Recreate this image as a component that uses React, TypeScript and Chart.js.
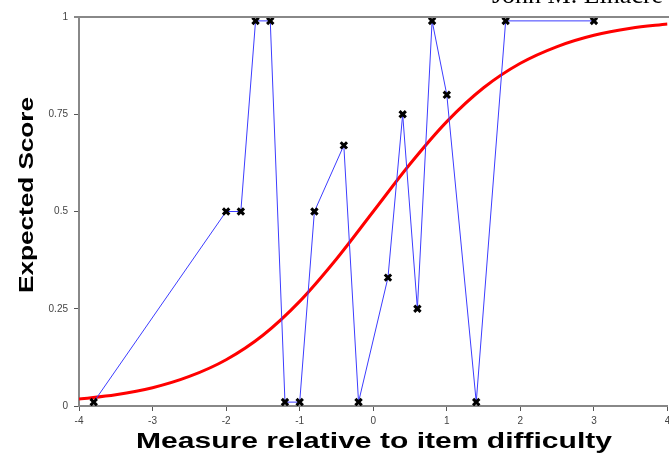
import React, { useEffect, useRef } from "react";
import { Chart, registerables } from "chart.js";

Chart.register(...registerables);

// Observed scores (blue line with X markers)
const obsX = [-3.8, -2.0, -1.8, -1.6, -1.4, -1.2, -1.0, -0.8, -0.4, -0.2, 0.2, 0.4, 0.6, 0.8, 1.0, 1.4, 1.8, 3.0];
const obsY = [0.01, 0.5, 0.5, 0.99, 0.99, 0.01, 0.01, 0.5, 0.67, 0.01, 0.33, 0.75, 0.25, 0.99, 0.8, 0.01, 0.99, 0.99];

// Expected score curve (red)
const curveX = [-4, -3.5, -3, -2.5, -2, -1.5, -1, -0.5, 0, 0.5, 1, 1.5, 2, 2.5, 3, 3.5, 4];
const curveY = [0.018, 0.029, 0.047, 0.076, 0.119, 0.182, 0.269, 0.378, 0.5, 0.622, 0.731, 0.818, 0.881, 0.924, 0.953, 0.971, 0.982];

const xTicks = [-4, -3, -2, -1, 0, 1, 2, 3, 4];
const yTicks = [0, 0.25, 0.5, 0.75, 1];

const xTitle = "Measure relative to item difficulty";
const yTitle = "Expected Score";
const author = "John M. Linacre";

const decor = {
  id: "decor",
  afterDraw(chart: any) {
    const ctx = chart.ctx as CanvasRenderingContext2D;
    const a = chart.chartArea;
    ctx.save();
    // top frame line
    ctx.strokeStyle = "#888888";
    ctx.lineWidth = 2;
    ctx.beginPath();
    ctx.moveTo(a.left - 5, a.top);
    ctx.lineTo(chart.width, a.top);
    ctx.stroke();

    ctx.fillStyle = "#000000";
    // x title
    ctx.save();
    ctx.font = "bold 22px 'Liberation Sans', Arial, sans-serif";
    const wx = ctx.measureText(xTitle).width;
    ctx.translate(374, 442);
    ctx.scale(476 / wx, 1);
    ctx.textAlign = "center";
    ctx.textBaseline = "middle";
    ctx.fillText(xTitle, 0, 0);
    ctx.restore();

    // y title
    ctx.save();
    ctx.font = "bold 21px 'Liberation Sans', Arial, sans-serif";
    const wy = ctx.measureText(yTitle).width;
    ctx.translate(27, 195);
    ctx.rotate(-Math.PI / 2);
    ctx.scale(196 / wy, 1);
    ctx.textAlign = "center";
    ctx.textBaseline = "middle";
    ctx.fillText(yTitle, 0, 0);
    ctx.restore();

    // author (cut off at top)
    ctx.font = "26px 'Liberation Serif', 'Times New Roman', serif";
    ctx.textAlign = "left";
    ctx.textBaseline = "alphabetic";
    ctx.fillText(author, 492, 3);
    ctx.restore();
  },
};

export default function App() {
  const ref = useRef<HTMLCanvasElement | null>(null);
  useEffect(() => {
    if (!ref.current) return;
    const tickFont = { family: "'Liberation Sans', Arial, sans-serif", size: 10 };
    const chart = new Chart(ref.current, {
      type: "line",
      data: {
        datasets: [
          {
            label: "Observed",
            data: obsX.map((x, i) => ({ x, y: obsY[i] })),
            borderColor: "#3c3cff",
            borderWidth: 1,
            pointStyle: "crossRot",
            pointRadius: 4.5,
            pointBorderWidth: 3,
            pointBorderColor: "#000000",
            pointBackgroundColor: "#000000",
            tension: 0,
            fill: false,
            order: 0,
          },
          {
            label: "Expected",
            data: curveX.map((x, i) => ({ x, y: curveY[i] })),
            borderColor: "#ff0000",
            borderWidth: 3,
            pointRadius: 0,
            cubicInterpolationMode: "monotone",
            fill: false,
            order: 1,
          },
        ],
      },
      options: {
        animation: false,
        responsive: false,
        devicePixelRatio: 1,
        layout: { padding: { top: 17, left: 0, right: 0, bottom: 0 } },
        plugins: { legend: { display: false }, tooltip: { enabled: false } },
        scales: {
          x: {
            type: "linear",
            min: -4,
            max: 4,
            afterBuildTicks: (s: any) => {
              s.ticks = xTicks.map((v) => ({ value: v }));
            },
            afterFit: (s: any) => {
              s.height = 49;
            },
            grid: { display: true, drawOnChartArea: false, tickLength: 5, color: "#555555", tickWidth: 1 },
            border: { display: true, color: "#888888", width: 2 },
            ticks: { font: tickFont, color: "#444444", padding: 4, maxRotation: 0, callback: (v: any) => String(v) },
          },
          y: {
            type: "linear",
            min: 0,
            max: 1,
            afterBuildTicks: (s: any) => {
              s.ticks = yTicks.map((v) => ({ value: v }));
            },
            afterFit: (s: any) => {
              s.width = 79;
            },
            grid: { display: true, drawOnChartArea: false, tickLength: 5, color: "#555555", tickWidth: 1 },
            border: { display: true, color: "#888888", width: 2 },
            ticks: { font: tickFont, color: "#444444", padding: 6, callback: (v: any) => String(v) },
          },
        },
      },
      plugins: [decor],
    } as any);
    return () => chart.destroy();
  }, []);
  return (
    <div style={{ position: "fixed", left: 0, top: 0, width: 669, height: 455, overflow: "hidden", background: "#ffffff" }}>
      <canvas ref={ref} width={675} height={455} style={{ display: "block" }} />
    </div>
  );
}
